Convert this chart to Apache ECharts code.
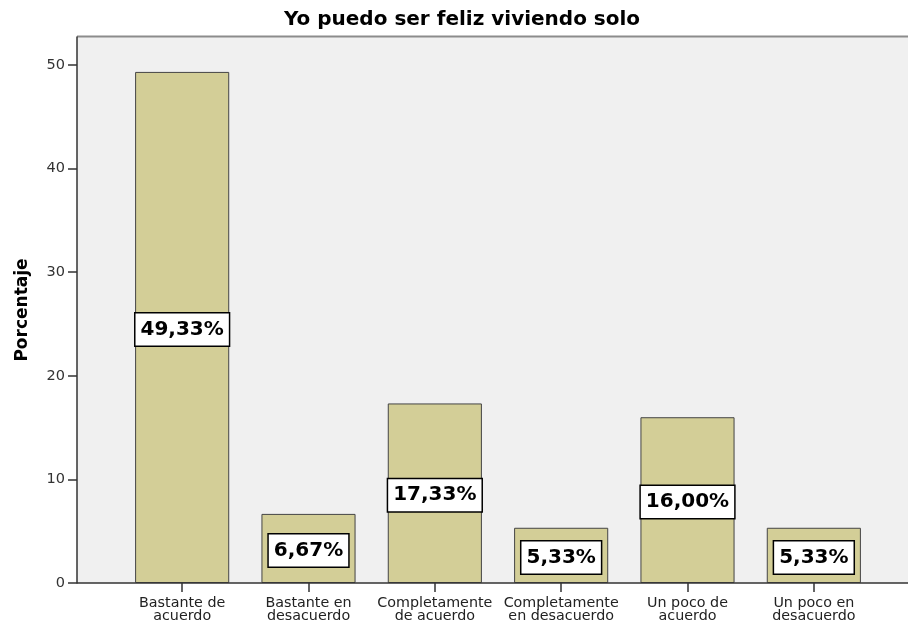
<!DOCTYPE html>
<html>
<head>
<meta charset="utf-8">
<script src="https://cdn.jsdelivr.net/npm/echarts@6/dist/echarts.min.js"></script>
<style>
  html, body { margin: 0; padding: 0; background: #fff; }
  #visualisation { width: 908px; height: 626px; }
</style>
</head>
<body>
<div id="visualisation"></div>
<script>
// Categorieën en waarden (percentages)
const categorieen = [
    'Bastante de\nacuerdo',
    'Bastante en\ndesacuerdo',
    'Completamente\nde acuerdo',
    'Completamente\nen desacuerdo',
    'Un poco de\nacuerdo',
    'Un poco en\ndesacuerdo'
];
const percentages = [49.33, 6.67, 17.33, 5.33, 16.00, 5.33];
const yTicks = [0, 10, 20, 30, 40, 50];

function drawVisualisation() {
    let visualisation = echarts.init(document.getElementById('visualisation'));

    // Kader van het plotgebied
    const frameLeft = 77, frameRight = 908, frameTop = 37, frameBottom = 583;

    let option = {
        animation: false,
        title: {
            text: 'Yo puedo ser feliz viviendo solo',
            left: 457,
            textAlign: 'center',
            top: 5,
            textStyle: {
                fontFamily: 'DejaVu Sans',
                fontSize: 20,
                fontWeight: 'bold',
                color: '#000'
            }
        },
        graphic: [
            {
                type: 'rect',
                z: -10,
                shape: { x: frameLeft, y: frameTop, width: frameRight - frameLeft, height: frameBottom - frameTop },
                style: { fill: '#f0f0f0' }
            },
            {
                type: 'line',
                z: -5,
                shape: { x1: frameLeft, y1: frameTop - 0.5, x2: frameRight, y2: frameTop - 0.5 },
                style: { stroke: '#8c8c8c', lineWidth: 2 }
            },
            {
                type: 'line',
                z: 50,
                shape: { x1: frameLeft, y1: frameBottom, x2: frameRight, y2: frameBottom },
                style: { stroke: '#333', lineWidth: 1.5 }
            }
        ],
        grid: {
            left: 119,
            right: 31,
            top: frameTop,
            bottom: 626 - frameBottom
        },
        xAxis: {
            type: 'category',
            data: categorieen,
            axisLine: { show: false },
            axisTick: { show: true, alignWithLabel: true, length: 9, lineStyle: { color: '#333', width: 1.5 } },
            axisLabel: {
                interval: 0,
                margin: 14,
                fontFamily: 'DejaVu Sans',
                fontSize: 14.3,
                lineHeight: 13,
                color: '#222'
            }
        },
        yAxis: {
            type: 'value',
            min: 0,
            max: 52.7,
            interval: 10,
            offset: 42,
            name: 'Porcentaje',
            nameLocation: 'middle',
            nameGap: 46,
            nameTextStyle: {
                fontFamily: 'DejaVu Sans',
                fontSize: 17,
                fontWeight: 'bold',
                color: '#000'
            },
            axisLine: { show: true, lineStyle: { color: '#333', width: 1.5 } },
            axisTick: { show: true, length: 9, lineStyle: { color: '#333', width: 1.5 }, customValues: yTicks },
            axisLabel: {
                margin: 12,
                fontFamily: 'DejaVu Sans',
                fontSize: 14.5,
                color: '#333',
                customValues: yTicks
            },
            splitLine: { show: false }
        },
        series: [
            {
                type: 'bar',
                data: percentages,
                barCategoryGap: '25.5%',
                itemStyle: {
                    color: '#d3ce97',
                    borderColor: '#444',
                    borderWidth: 1
                },
                label: {
                    show: true,
                    position: 'inside',
                    offset: [0, 2],
                    formatter: p => p.value.toFixed(2).replace('.', ',') + '%',
                    fontFamily: 'DejaVu Sans',
                    fontSize: 20,
                    fontWeight: 'bold',
                    color: '#000',
                    backgroundColor: '#fff',
                    borderColor: '#000',
                    borderWidth: 1.5,
                    padding: [7, 5, 5, 5]
                }
            }
        ]
    };

    visualisation.setOption(option);
}

window.addEventListener('load', drawVisualisation);
</script>
</body>
</html>
